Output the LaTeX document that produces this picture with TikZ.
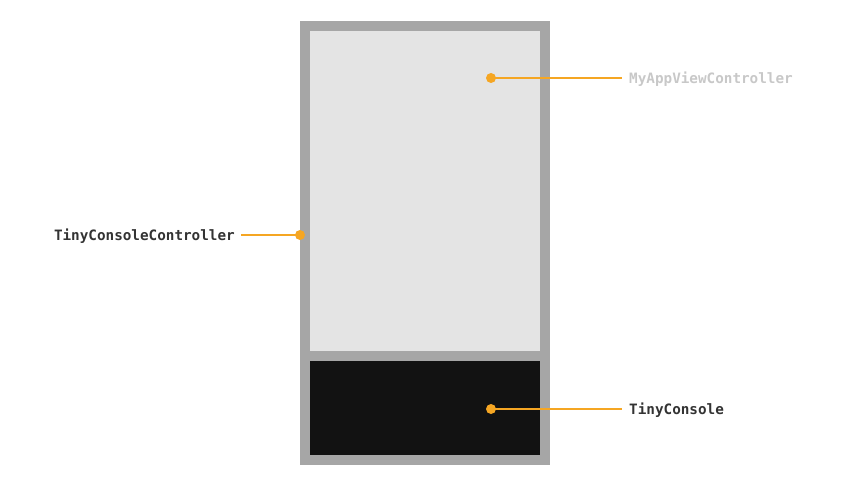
\documentclass[tikz,border=0pt]{standalone}
\usepackage{fontspec}
\setmonofont{DejaVu Sans Mono}
\usepackage{xcolor}
\definecolor{tcframe}{RGB}{166,166,166}
\definecolor{tclight}{RGB}{228,228,228}
\definecolor{tcdark}{RGB}{18,18,18}
\definecolor{tcorange}{RGB}{245,166,35}
\definecolor{tctext}{RGB}{51,51,51}
\definecolor{tcfaded}{RGB}{200,200,200}
\usetikzlibrary{positioning}
\tikzset{
  panel/.style={draw=none, fill=#1, rectangle, inner sep=0pt, anchor=north west},
  pin/.style={circle, fill=tcorange, draw=none, minimum size=10pt, inner sep=0pt},
  lead/.style={draw=tcorange, line width=1.5pt},
  lbl/.style={font=\fontsize{14.3}{16}\selectfont\ttfamily\bfseries, text=#1,
              inner ysep=0pt, text height=10.4pt, text depth=0pt},
}

\begin{document}
\begin{tikzpicture}[x=1pt, y=-1pt]
  \useasboundingbox (0,0) rectangle (850,484);
  % Device frame and view panels
  \node[panel=tcframe, minimum width=250pt, minimum height=444pt] (frame) at (300,21) {};
  \node[panel=tclight, minimum width=230pt, minimum height=320pt] (appview) at (310,31) {};
  \node[panel=tcdark, minimum width=230pt, minimum height=94pt] (console) at (310,361) {};

  % Pins
  \node[pin] (pinapp) at (491,78) {};
  \node[pin] (pinctrl) at (300,235) {};
  \node[pin] (pincons) at (491,409) {};

  % Labels
  \node[lbl=tcfaded, anchor=west, inner xsep=7pt] (lblapp) at (622,78) {MyAppViewController};
  \node[lbl=tctext, anchor=east, inner xsep=6pt] (lblctrl) at (241,235) {TinyConsoleController};
  \node[lbl=tctext, anchor=west, inner xsep=7pt] (lblcons) at (622,409) {TinyConsole};

  % Leader lines
  \draw[lead] (pinapp.center) -- (lblapp.west);
  \draw[lead] (lblctrl.east) -- (pinctrl.center);
  \draw[lead] (pincons.center) -- (lblcons.west);
\end{tikzpicture}
\end{document}
